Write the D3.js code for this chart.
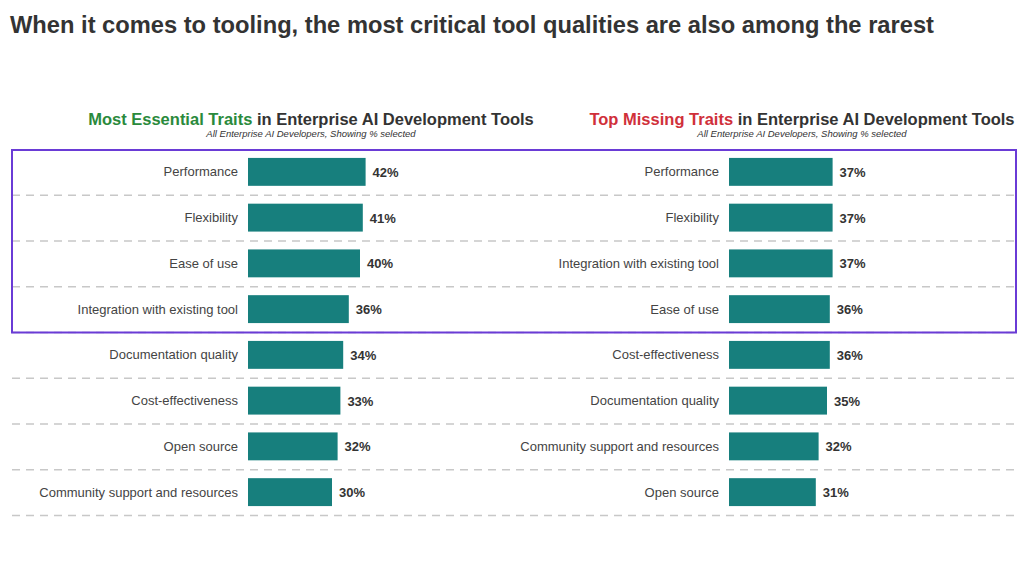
<!DOCTYPE html>
<html>
<head>
<meta charset="utf-8">
<script src="https://cdn.jsdelivr.net/npm/d3@7"></script>
<style>
  body { margin: 0; background: #fff; }
  svg { font-family: "Liberation Sans", Arial, sans-serif; }
</style>
</head>
<body>
<div class="chart"></div>
<script>
const leftTraits = ["Performance", "Flexibility", "Ease of use", "Integration with existing tool",
    "Documentation quality", "Cost-effectiveness", "Open source", "Community support and resources"];
const leftValues = [42, 41, 40, 36, 34, 33, 32, 30];

const rightTraits = ["Performance", "Flexibility", "Integration with existing tool", "Ease of use",
    "Cost-effectiveness", "Documentation quality", "Community support and resources", "Open source"];
const rightValues = [37, 37, 37, 36, 36, 35, 32, 31];

const width = 1024;
const height = 576;

const svg = d3.select('.chart')
    .append('svg')
    .attr('width', width)
    .attr('height', height);

svg.append("text")
    .text("When it comes to tooling, the most critical tool qualities are also among the rarest")
    .attr("x", 10)
    .attr("y", 33)
    .attr("font-size", "23.7px")
    .attr("font-weight", "bold")
    .attr("fill", "#333");

// rows shared by both panels
const y = d3.scaleBand()
    .domain(d3.range(8))
    .range([149, 515])
    .paddingInner(0.39)
    .paddingOuter(0.195);

// dashed separators
const lineYs = d3.range(8).map(i => y(i) + y.bandwidth() + y.step() * 0.39 / 2 + 0.5);
svg.selectAll("line.sep")
    .data(lineYs)
    .enter()
    .append("line")
    .attr("class", "sep")
    .attr("x1", 12)
    .attr("x2", 1016)
    .attr("y1", d => d)
    .attr("y2", d => d)
    .attr("stroke", "#c8c8c8")
    .attr("stroke-width", 1.3)
    .attr("stroke-dasharray", "8,6");

function panel(traits, values, x0, center, highlight, highlightColor) {
    const x = d3.scaleLinear().domain([0, 10]).range([x0, x0 + 28]);

    const head = svg.append("text")
        .attr("x", center)
        .attr("y", 125)
        .attr("text-anchor", "middle")
        .attr("font-size", "16.5px")
        .attr("font-weight", "bold")
        .attr("fill", "#333");
    head.append("tspan").text(highlight).attr("fill", highlightColor);
    head.append("tspan").text(" in Enterprise AI Development Tools");

    svg.append("text")
        .text("All Enterprise AI Developers, Showing % selected")
        .attr("x", center)
        .attr("y", 137)
        .attr("text-anchor", "middle")
        .attr("font-size", "9.5px")
        .attr("font-style", "italic")
        .attr("fill", "#333");

    const g = svg.append("g");

    g.selectAll("rect")
        .data(values)
        .enter()
        .append("rect")
        .attr("x", x(0))
        .attr("y", (d, i) => y(i))
        .attr("width", d => x(d) - x(0))
        .attr("height", y.bandwidth())
        .attr("fill", "#177f7d");

    g.selectAll("text.name")
        .data(traits)
        .enter()
        .append("text")
        .attr("class", "name")
        .text(d => d)
        .attr("x", x0 - 10)
        .attr("y", (d, i) => y(i) + y.bandwidth() / 2 + 4.5)
        .attr("text-anchor", "end")
        .attr("font-size", "13px")
        .attr("fill", "#444");

    g.selectAll("text.value")
        .data(values)
        .enter()
        .append("text")
        .attr("class", "value")
        .text(d => d + "%")
        .attr("x", d => x(d) + 7)
        .attr("y", (d, i) => y(i) + y.bandwidth() / 2 + 5)
        .attr("font-size", "13px")
        .attr("font-weight", "bold")
        .attr("fill", "#333");
}

panel(leftTraits, leftValues, 248, 311, "Most Essential Traits", "#2a8a3c");
panel(rightTraits, rightValues, 729, 802, "Top Missing Traits", "#d0303a");

// highlight box around top four rows
svg.append("rect")
    .attr("x", 12)
    .attr("y", 150)
    .attr("width", 1004)
    .attr("height", lineYs[3] - 150)
    .attr("fill", "none")
    .attr("stroke", "#6a3bd6")
    .attr("stroke-width", 2);
</script>
</body>
</html>
